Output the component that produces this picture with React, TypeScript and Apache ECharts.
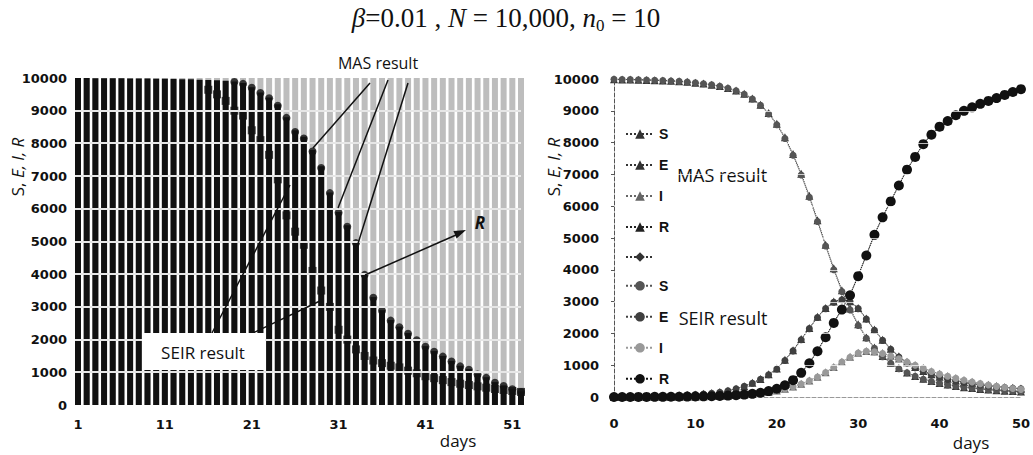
import React, { useEffect, useRef } from "react";
import * as echarts from "echarts";

// ---------- Left panel (days 1..52) ----------
const leftDays = Array.from({ length: 52 }, (_, i) => String(i + 1));
const yTicks = [1000, 2000, 3000, 4000, 5000, 6000, 7000, 8000, 9000];
// SEIR S (black bars)
const leftSeirS = [
  10000, 9998, 9996, 9994, 9992, 9990, 9988, 9985, 9982, 9978, 9974, 9970, 9965, 9960, 9950, 9940, 9930, 9915,
  9890, 9850, 9720, 9560, 9400, 9200, 8800, 8400, 8200, 7800,
  7300, 6500, 5900, 5500, 5000, 4000, 3300, 2900, 2600, 2400,
  2200, 2000, 1800, 1650, 1500, 1350, 1200, 1100, 950, 850,
  700, 600, 500, 420,
];
// MAS points on the outer edge (circles)
const leftMasOuter = [
  null, null, null, null, null, null, null, null, null, null, null, null, null, null, null, null, null, null,
  9880, 9820, 9700, 9540, 9380, 9150, 8780, 8350, 8150, 7750,
  7250, 6480, 5880, 5450, 4950, 3980, 3280, 2880, 2580, 2380,
  2180, 1980, 1780, 1630, 1480, 1330, 1180, 1080, 930, 830,
  680, 580, 480, 400,
];
// MAS points inside (squares)
const leftMasInner = [
  null, null, null, null, null, null, null, null, null, null, null, null, null, null, null,
  9640, 9500, 9300, 9000, 8850, 8400, 8100, 7650, 6900, 5800,
  5300, 4900, 4100, 3500, 3000, 2300, 2000, 1700, 1500, 1360,
  1280, 1200, 1150, 1050, 970, 880, 820, 760, 700, 650,
  610, 570, 530, 490, 460, 430, 400,
];

// ---------- Right panel (days 0..50) ----------
const rightDays = Array.from({ length: 51 }, (_, i) => i);
const masS = [9990, 9988, 9983, 9978, 9970, 9962, 9955, 9943, 9930, 9910, 9885, 9858, 9820, 9778, 9720, 9640, 9535, 9390, 9190, 8930, 8590, 8170, 7640, 7020, 6330, 5560, 4790, 4050, 3360, 2780, 2290, 1880, 1560, 1290, 1080, 910, 770, 660, 570, 500, 440, 390, 345, 310, 280, 255, 232, 214, 198, 185, 172];
const masE = [10, 13, 15, 18, 22, 27, 33, 42, 52, 65, 80, 100, 125, 155, 200, 262, 340, 445, 565, 715, 895, 1170, 1470, 1820, 2170, 2520, 2800, 3000, 3080, 3010, 2800, 2470, 2120, 1800, 1520, 1280, 1090, 940, 815, 715, 635, 570, 515, 470, 430, 395, 362, 335, 310, 288, 268];
const masI = [0, 1, 2, 3, 4, 6, 7, 9, 12, 15, 19, 24, 30, 38, 48, 62, 78, 99, 126, 160, 205, 262, 332, 418, 520, 640, 782, 942, 1110, 1262, 1390, 1450, 1432, 1380, 1300, 1212, 1112, 1010, 912, 812, 730, 660, 594, 534, 478, 428, 382, 342, 306, 276, 246];
const masR = [0, 0, 1, 2, 3, 4, 6, 7, 10, 13, 17, 22, 28, 36, 46, 60, 78, 104, 140, 190, 268, 380, 545, 775, 1080, 1460, 1900, 2350, 2770, 3220, 3820, 4470, 5120, 5670, 6170, 6670, 7160, 7560, 7960, 8260, 8510, 8690, 8870, 9010, 9120, 9230, 9320, 9410, 9510, 9600, 9690];
const seirS = [9990, 9986, 9981, 9975, 9968, 9960, 9950, 9939, 9925, 9905, 9880, 9850, 9815, 9770, 9710, 9630, 9520, 9370, 9170, 8900, 8560, 8130, 7600, 6980, 6280, 5520, 4750, 4000, 3320, 2740, 2250, 1850, 1530, 1270, 1060, 890, 760, 650, 560, 490, 430, 380, 340, 305, 275, 250, 228, 210, 195, 182, 170];
const seirE = [10, 12, 14, 17, 21, 26, 32, 40, 50, 62, 78, 97, 120, 150, 195, 255, 335, 435, 555, 700, 880, 1150, 1450, 1800, 2150, 2500, 2780, 2980, 3060, 3000, 2780, 2450, 2100, 1780, 1500, 1260, 1070, 920, 800, 700, 620, 555, 500, 455, 415, 380, 350, 322, 298, 276, 256];
const seirI = [0, 1, 2, 3, 4, 5, 7, 9, 11, 14, 18, 23, 29, 37, 47, 60, 76, 96, 122, 155, 200, 255, 325, 410, 510, 630, 770, 930, 1100, 1250, 1380, 1440, 1420, 1370, 1290, 1200, 1100, 1000, 900, 800, 720, 650, 585, 525, 470, 420, 375, 335, 300, 270, 240];
const seirR = [0, 0, 1, 2, 3, 4, 5, 7, 9, 12, 16, 21, 27, 35, 45, 58, 75, 100, 135, 185, 260, 370, 530, 760, 1060, 1440, 1880, 2330, 2750, 3200, 3800, 4450, 5100, 5650, 6150, 6650, 7150, 7550, 7950, 8250, 8500, 8680, 8860, 9000, 9110, 9220, 9310, 9400, 9500, 9590, 9680];

const legendNames = ["MAS S", "MAS E", "MAS I", "MAS R", "MAS *", "SEIR S", "SEIR E", "SEIR I", "SEIR R"];
const legendLabels = ["S", "E", "I", "R", "", "S", "E", "I", "R"];

const pairs = (vals: number[]) => rightDays.slice(0, vals.length).map((d, i) => [d, vals[i]]);

const labelFont = { fontFamily: "DejaVu Sans", fontWeight: "bold" as const, fontSize: 13, color: "#111" };
const plainNum = (v: number) => String(v);

const GRID_L = { left: 78, top: 78, width: 443, height: 327 };
const GRID_R = { left: 614, top: 79, width: 413, height: 318 };

function lineSeries(name: string, vals: number[], symbol: string, size: number, color: string, z: number) {
  return {
    type: "line",
    name,
    xAxisIndex: 1,
    yAxisIndex: 1,
    data: pairs(vals),
    symbol,
    symbolSize: size,
    itemStyle: { color },
    lineStyle: { color, width: 1, type: "dotted" },
    z,
  };
}

export default function App() {
  const ref = useRef<HTMLDivElement>(null);
  useEffect(() => {
    if (!ref.current) return;
    const chart = echarts.init(ref.current, null, { renderer: "svg" });
    const baseGraphic: any[] = [
      {
        type: "text",
        x: 506,
        y: 18,
        style: {
          text: "{i|β}{r|=0.01 , }{i|N}{r| = 10,000, }{i|n}{s|0}{r| = 10}",
          textAlign: "center",
          textVerticalAlign: "middle",
          rich: {
            i: { fontFamily: "Liberation Serif", fontStyle: "italic", fontSize: 27, fill: "#111", lineHeight: 32 },
            r: { fontFamily: "Liberation Serif", fontSize: 27, fill: "#111", lineHeight: 32 },
            s: { fontFamily: "Liberation Serif", fontSize: 17, fill: "#111", lineHeight: 32, verticalAlign: "bottom" },
          },
        },
      },
      {
        type: "text",
        x: 17,
        y: 167,
        rotation: Math.PI / 2,
        style: {
          text: "{n|S, }{i|E, I, R}",
          textAlign: "center",
          textVerticalAlign: "middle",
          rich: {
            n: { fontFamily: "Open Sans", fontSize: 17, fill: "#111" },
            i: { fontFamily: "Open Sans", fontStyle: "italic", fontSize: 17, fill: "#111" },
          },
        },
      },
      {
        type: "text",
        x: 553,
        y: 167,
        rotation: Math.PI / 2,
        style: {
          text: "{n|S, }{i|E, I, R}",
          textAlign: "center",
          textVerticalAlign: "middle",
          rich: {
            n: { fontFamily: "Open Sans", fontSize: 17, fill: "#111" },
            i: { fontFamily: "Open Sans", fontStyle: "italic", fontSize: 17, fill: "#111" },
          },
        },
      },
      { type: "text", x: 458, y: 440, style: { text: "days", textAlign: "center", textVerticalAlign: "middle", fontFamily: "Open Sans", fontSize: 17, fill: "#111" } },
      { type: "text", x: 971, y: 442, style: { text: "days", textAlign: "center", textVerticalAlign: "middle", fontFamily: "Open Sans", fontSize: 17, fill: "#111" } },
      { type: "text", x: 378, y: 63, style: { text: "MAS result", textAlign: "center", textVerticalAlign: "middle", fontFamily: "Open Sans", fontSize: 16, fill: "#111" } },
      { type: "text", x: 722, y: 175, style: { text: "MAS result", textAlign: "center", textVerticalAlign: "middle", fontFamily: "Open Sans", fontSize: 18, fill: "#111" } },
      { type: "text", x: 723, y: 318, style: { text: "SEIR result", textAlign: "center", textVerticalAlign: "middle", fontFamily: "Open Sans", fontSize: 18, fill: "#111" } },
      // left annotations
      { type: "line", z: 100, shape: { x1: 370, y1: 83, x2: 313, y2: 148 }, style: { stroke: "#111", lineWidth: 1.5 } },
      { type: "line", z: 100, shape: { x1: 388, y1: 80, x2: 338, y2: 208 }, style: { stroke: "#111", lineWidth: 1.5 } },
      { type: "line", z: 100, shape: { x1: 408, y1: 83, x2: 356, y2: 250 }, style: { stroke: "#111", lineWidth: 1.5 } },
      { type: "line", z: 100, shape: { x1: 212, y1: 333, x2: 290, y2: 185 }, style: { stroke: "#111", lineWidth: 1.5 } },
      { type: "line", z: 100, shape: { x1: 253, y1: 333, x2: 322, y2: 300 }, style: { stroke: "#111", lineWidth: 1.5 } },
      { type: "rect", z: 101, shape: { x: 142, y: 333, width: 123, height: 37 }, style: { fill: "#ffffff" } },
      { type: "text", z: 102, x: 203, y: 352, style: { text: "SEIR result", textAlign: "center", textVerticalAlign: "middle", fontFamily: "Open Sans", fontSize: 17, fill: "#111" } },
      { type: "line", z: 100, shape: { x1: 365, y1: 275, x2: 456, y2: 235 }, style: { stroke: "#111", lineWidth: 1.5 } },
      { type: "polygon", z: 100, shape: { points: [[466, 230], [456.6, 238.5], [453.4, 231.1]] }, style: { fill: "#111" } },
      { type: "text", z: 100, x: 480, y: 222, style: { text: "R", textAlign: "center", textVerticalAlign: "middle", fontFamily: "Open Sans", fontStyle: "italic", fontWeight: "bold", fontSize: 17, fill: "#111" } },
    ];
    const option: any = {
      animation: false,
      backgroundColor: "#ffffff",
      grid: [GRID_L, GRID_R],
      xAxis: [
        {
          type: "category",
          gridIndex: 0,
          data: leftDays,
          boundaryGap: false,
          axisLine: { show: false },
          axisTick: { show: false },
          axisLabel: { ...labelFont, interval: 9, margin: 13 },
        },
        {
          type: "value",
          gridIndex: 1,
          min: 0,
          max: 50,
          interval: 10,
          axisLine: { show: true, lineStyle: { color: "#999", type: "dashed", width: 1 } },
          axisTick: { show: false },
          splitLine: { show: false },
          axisLabel: { ...labelFont, margin: 20 },
        },
      ],
      yAxis: [
        {
          type: "value",
          gridIndex: 0,
          min: 0,
          max: 10000,
          interval: 1000,
          axisLine: { show: false },
          axisTick: { show: false },
          splitLine: { show: false },
          axisLabel: { ...labelFont, margin: 11, formatter: plainNum },
        },
        {
          type: "value",
          gridIndex: 1,
          min: 0,
          max: 10000,
          interval: 1000,
          axisLine: { show: true, lineStyle: { color: "#555", type: "dashed", width: 1 } },
          axisTick: { show: true, length: 3, lineStyle: { color: "#555" } },
          splitLine: { show: false },
          axisLabel: { ...labelFont, margin: 15, formatter: plainNum },
        },
      ],
      legend: {
        orient: "vertical",
        left: 620,
        top: 122,
        itemWidth: 28,
        itemHeight: 12,
        itemGap: 17,
        data: legendNames,
        formatter: (n: string) => legendLabels[legendNames.indexOf(n)] ?? "",
        textStyle: { fontFamily: "Liberation Sans", fontWeight: "bold", fontSize: 14, color: "#111" },
      },
      series: [
        {
          type: "bar",
          name: "SEIR S bars",
          xAxisIndex: 0,
          yAxisIndex: 0,
          data: leftSeirS,
          barWidth: 6,
          itemStyle: { color: "#111" },
          showBackground: true,
          backgroundStyle: { color: "#bdbdbd" },
          z: 2,
        },
        {
          type: "scatter",
          name: "MAS inner",
          xAxisIndex: 0,
          yAxisIndex: 0,
          data: leftMasInner,
          symbol: "rect",
          symbolSize: 8,
          itemStyle: { color: "#111" },
          z: 3,
        },
        {
          type: "scatter",
          name: "MAS outer",
          xAxisIndex: 0,
          yAxisIndex: 0,
          data: leftMasOuter,
          symbol: "circle",
          symbolSize: 8,
          itemStyle: { color: "#111" },
          z: 4,
        },
        lineSeries("MAS S", masS, "triangle", 8, "#333", 5),
        lineSeries("MAS E", masE, "triangle", 8, "#333", 5),
        lineSeries("MAS I", masI, "triangle", 8, "#666", 5),
        lineSeries("MAS R", masR, "triangle", 8, "#222", 5),
        lineSeries("MAS *", [], "diamond", 7, "#333", 5),
        lineSeries("SEIR S", seirS, "circle", 7, "#555", 6),
        lineSeries("SEIR E", seirE, "circle", 7, "#404040", 6),
        lineSeries("SEIR I", seirI, "circle", 7, "#999999", 6),
        lineSeries("SEIR R", seirR, "circle", 10, "#111", 7),
      ],
      graphic: baseGraphic,
    };
    chart.setOption(option);

    // light gridlines drawn over the marks, positioned through the axes' own scales
    const gridLines: any[] = [];
    yTicks.forEach((v) => {
      const yl = Math.round(chart.convertToPixel({ yAxisIndex: 0 }, v) as number);
      gridLines.push({
        type: "rect",
        z: 50,
        silent: true,
        shape: { x: GRID_L.left - 3, y: yl - 1, width: GRID_L.width + 3, height: 2 },
        style: { fill: "#e6e6e6" },
      });
      const yr = Math.round(chart.convertToPixel({ yAxisIndex: 1 }, v) as number);
      gridLines.push({
        type: "rect",
        z: 50,
        silent: true,
        shape: { x: GRID_R.left + 2, y: yr, width: GRID_R.width - 2, height: 1 },
        style: { fill: "#ffffff", opacity: 0.7 },
      });
    });
    chart.setOption({ graphic: [...baseGraphic, ...gridLines] });
    return () => chart.dispose();
  }, []);
  return <div ref={ref} style={{ width: 1033, height: 455, position: "absolute", left: 0, top: 0 }} />;
}
